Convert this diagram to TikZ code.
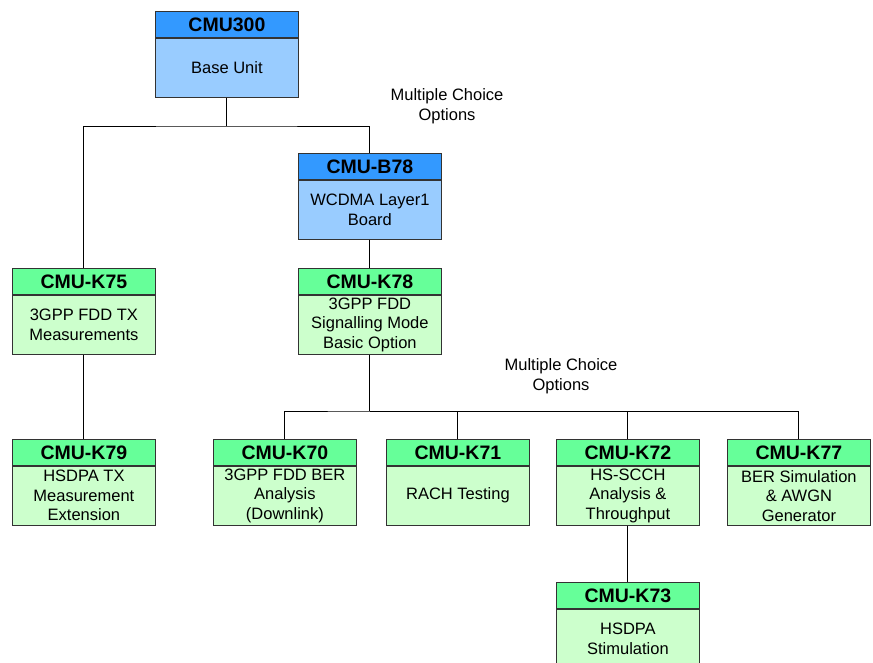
\documentclass[tikz,border=0pt]{standalone}
\usepackage{fontspec}
\setmainfont{Liberation Sans}
\usetikzlibrary{positioning}
\usetikzlibrary{math}
\definecolor{hdblue}{HTML}{3399FF}
\definecolor{bdblue}{HTML}{99CCFF}
\definecolor{hdgreen}{HTML}{66FF99}
\definecolor{bdgreen}{HTML}{CCFFCC}
\definecolor{edgegray}{HTML}{333333}
\begin{document}
\begin{tikzpicture}[x=1pt,y=-1pt,
	head/.style={draw=edgegray,line width=0.8pt,anchor=north west,inner sep=0pt,
		minimum width=143pt,minimum height=26pt,font=\bfseries\fontsize{19.5}{20}\selectfont},
	body/.style={draw=edgegray,line width=0.8pt,inner sep=0pt,align=center,
		minimum width=143pt,minimum height=59pt,font=\fontsize{16.5}{19.5}\selectfont},
	bluehead/.style={head,fill=hdblue},
	bluebody/.style={body,fill=bdblue},
	greenhead/.style={head,fill=hdgreen},
	greenbody/.style={body,fill=bdgreen},
	note/.style={align=center,font=\fontsize{16.5}{19.5}\selectfont},
	link/.style={line width=0.9pt,black}]
	\useasboundingbox (0,0) rectangle (873,663);
	\tikzmath{\ra=11; \rb=153; \rc=268; \rd=439; \re=582;
	\ca=12; \cb=155; \cc=213; \cd=298; \ce=386; \cf=556; \cg=727;
	}
	% top row
	\node[bluehead] (cmu300h) at (\cb,\ra) {CMU300};
	\node[bluebody, below=0pt of cmu300h] (cmu300) {Base Unit};
	\node[bluehead] (b78h) at (\cd,\rb) {CMU-B78};
	\node[bluebody, below=0pt of b78h] (b78) {WCDMA Layer1\\Board};
	% second level
	\node[greenhead] (k75h) at (\ca,\rc) {CMU-K75};
	\node[greenbody, below=0pt of k75h] (k75) {3GPP FDD TX\\Measurements};
	\node[greenhead] (k78h) at (\cd,\rc) {CMU-K78};
	\node[greenbody, below=0pt of k78h] (k78) {3GPP FDD\\Signalling Mode\\Basic Option};
	% third level
	\node[greenhead] (k79h) at (\ca,\rd) {CMU-K79};
	\node[greenbody, below=0pt of k79h] (k79) {HSDPA TX\\Measurement\\Extension};
	\node[greenhead] (k70h) at (\cc,\rd) {CMU-K70};
	\node[greenbody, below=0pt of k70h] (k70) {3GPP FDD BER\\Analysis\\(Downlink)};
	\node[greenhead] (k71h) at (\ce,\rd) {CMU-K71};
	\node[greenbody, below=0pt of k71h] (k71) {RACH Testing};
	\node[greenhead] (k72h) at (\cf,\rd) {CMU-K72};
	\node[greenbody, below=0pt of k72h] (k72) {HS-SCCH\\Analysis \&\\Throughput};
	\node[greenhead] (k77h) at (\cg,\rd) {CMU-K77};
	\node[greenbody, below=0pt of k77h] (k77) {BER Simulation\\\& AWGN\\Generator};
	\node[greenhead] (k73h) at (\cf,\re) {CMU-K73};
	\node[greenbody, below=0pt of k73h] (k73) {HSDPA\\Stimulation};
	% notes
	\node[note] (choicea) at (447,106) {Multiple Choice\\Options};
	\node[note] (choiceb) at (561,376) {Multiple Choice\\Options};
	% connectors
	\coordinate (splita) at (cmu300.south |- 0,126);
	\coordinate (splitb) at (k78.south |- 0,411);
	\draw[link] (cmu300.south) -- (splita);
	\draw[link] (k75h.north) |- (splita) -| (b78h.north);
	\draw[link] (b78.south) -- (k78h.north);
	\draw[link] (k75.south) -- (k79h.north);
	\draw[link] (k78.south) -- (splitb);
	\draw[link] (k70h.north) |- (splitb) -| (k77h.north);
	\draw[link] (k71h.north) |- (splitb);
	\draw[link] (k72h.north) |- (splitb);
	\draw[link] (k72.south) -- (k73h.north);
\end{tikzpicture}
\end{document}
